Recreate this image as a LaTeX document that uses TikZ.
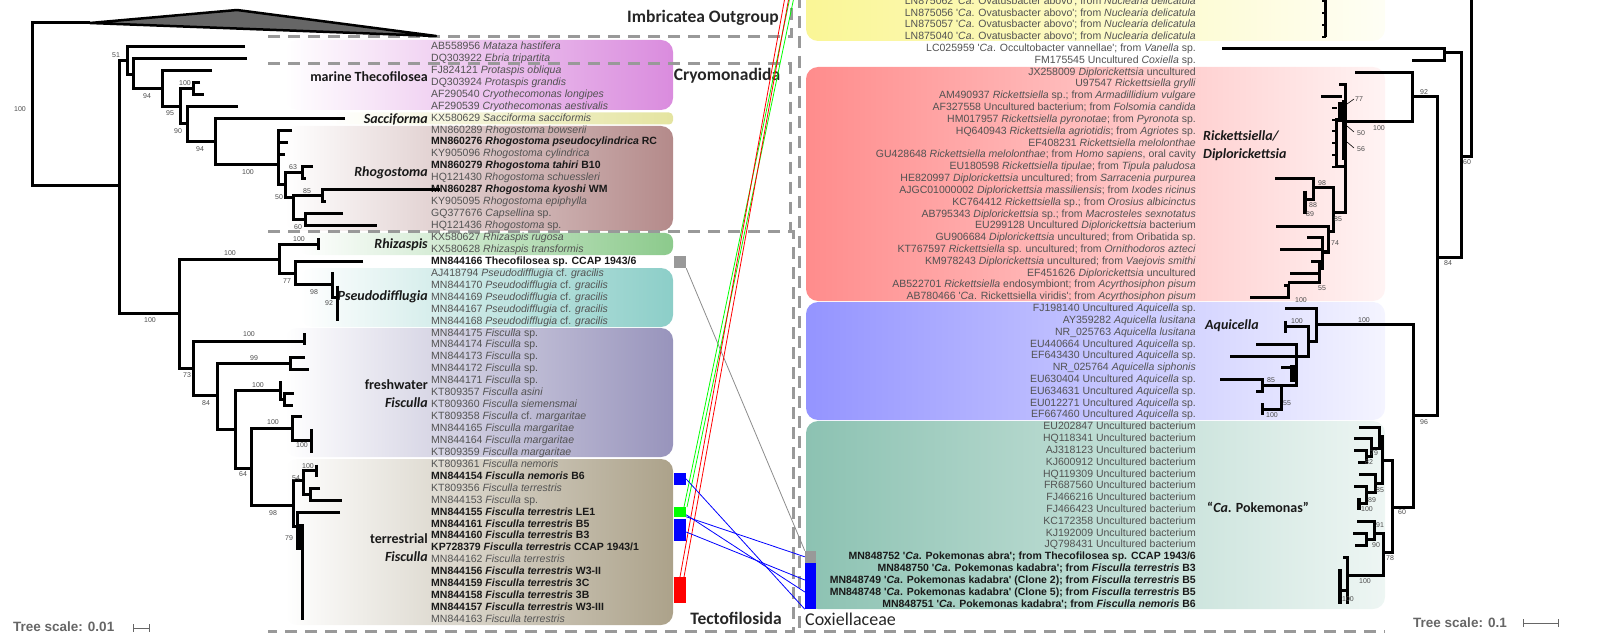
\documentclass[tikz,border=0pt]{standalone}
\usepackage{fontspec}
\setmainfont{Liberation Sans}
\newfontfamily\carlito{Carlito}
\definecolor{cryoC}{RGB}{218,140,222}
\definecolor{saccC}{RGB}{228,228,160}
\definecolor{rhogC}{RGB}{180,138,138}
\definecolor{rhizC}{RGB}{140,202,140}
\definecolor{pseuC}{RGB}{140,206,200}
\definecolor{fresC}{RGB}{152,148,188}
\definecolor{terrC}{RGB}{172,162,138}
\definecolor{ovaC}{RGB}{250,246,150}
\definecolor{rickC}{RGB}{255,140,140}
\definecolor{aquiC}{RGB}{148,148,255}
\definecolor{pokeC}{RGB}{140,194,178}
\newcommand{\strain}[1]{{\color{black!90}\bfseries #1}}
\newcommand{\apos}{\textquotesingle}
\begin{document}
\begin{tikzpicture}[x=1pt, y=-1pt,
  tree/.style={line width=3pt},
  boot/.style={inner sep=0, font=\fontsize{7}{8}\selectfont, text=black!70},
  llab/.style={anchor=west, inner sep=0, text height=7.5pt, text depth=2pt, font=\fontsize{10.5}{12}\selectfont, text=black!68},
  rlab/.style={anchor=east, inner sep=0, text height=7.5pt, text depth=2pt, font=\fontsize{10.5}{12}\selectfont, text=black!68},
  clade/.style={inner sep=0, font=\carlito\bfseries\fontsize{14}{18}\selectfont, text=black!90},
  group/.style={inner sep=0, font=\carlito\bfseries\fontsize{17.5}{19}\selectfont, text=black!85},
  sep/.style={black!40, line width=3pt, dash pattern=on 12pt off 8pt},
  marker/.style={inner sep=0, minimum width=12pt},
  link/.style={line width=0.8pt},
  scalelab/.style={anchor=west, inner sep=0, font=\bfseries\fontsize{13.5}{15}\selectfont, text=black!60}]
\useasboundingbox (0,0) rectangle (1602,636);

% coloured clade boxes, left
\shade[left color=white, right color=cryoC, rounded corners=12pt] (285,40) rectangle (673,110);
\shade[left color=white, right color=saccC, rounded corners=4pt] (330,112.5) rectangle (673,124.5);
\shade[left color=white, right color=rhogC, rounded corners=12pt] (285,126) rectangle (673,231);
\shade[left color=white, right color=rhizC, rounded corners=8pt] (300,233) rectangle (673,255);
\shade[left color=white, right color=pseuC, rounded corners=12pt] (300,268) rectangle (673,327);
\shade[left color=white, right color=fresC, rounded corners=12pt] (285,328) rectangle (673,457);
\shade[left color=white, right color=terrC, rounded corners=12pt] (285,459) rectangle (673,625);
% coloured clade boxes, right
\shade[left color=ovaC, right color=ovaC!10!white, rounded corners=12pt] (806,-15) rectangle (1385,41);
\shade[left color=rickC, right color=rickC!10!white, rounded corners=12pt] (806,67) rectangle (1385,301);
\shade[left color=aquiC, right color=aquiC!10!white, rounded corners=12pt] (806,302) rectangle (1385,420);
\shade[left color=pokeC, right color=pokeC!15!white, rounded corners=12pt] (806,421) rectangle (1385,609);

% dashed group frames
\draw[sep] (268,37) -- (791,37) -- (791,-4);
\draw[sep] (268,64) -- (790,64) -- (790,231);
\draw[sep] (268,232) -- (793,232) -- (793,631) -- (268,631);
\draw[sep] (799,-4) -- (799,631) -- (1385,631);

\node[group] (imb) at (703,18) {Imbricatea Outgroup};
\node[group] (cryo) at (727,76) {Cryomonadida};
\node[group] (tecto) at (736,618) {Tectofilosida};
\node[group, anchor=west, font=\carlito\fontsize{18}{20}\selectfont] (cox) at (805,619) {Coxiellaceae};

% left leaf labels
\foreach \t [count=\i] in {
  {AB558956 \textit{Mataza hastifera}},
  {DQ303922 \textit{Ebria tripartita}},
  {FJ824121 \textit{Protaspis obliqua}},
  {DQ303924 \textit{Protaspis grandis}},
  {AF290540 \textit{Cryothecomonas longipes}},
  {AF290539 \textit{Cryothecomonas aestivalis}},
  {KX580629 \textit{Sacciforma sacciformis}},
  {MN860289 \textit{Rhogostoma bowserii}},
  {\strain{MN860276 \textit{Rhogostoma pseudocylindrica} RC}},
  {KY905096 \textit{Rhogostoma cylindrica}},
  {\strain{MN860279 \textit{Rhogostoma tahiri} B10}},
  {HQ121430 \textit{Rhogostoma schuessleri}},
  {\strain{MN860287 \textit{Rhogostoma kyoshi} WM}},
  {KY905095 \textit{Rhogostoma epiphylla}},
  {GQ377676 \textit{Capsellina} sp.},
  {HQ121436 \textit{Rhogostoma} sp.},
  {KX580627 \textit{Rhizaspis rugosa}},
  {KX580628 \textit{Rhizaspis transformis}},
  {\strain{MN844166 Thecofilosea sp. CCAP 1943/6}},
  {AJ418794 \textit{Pseudodifflugia} cf. \textit{gracilis}},
  {MN844170 \textit{Pseudodifflugia} cf. \textit{gracilis}},
  {MN844169 \textit{Pseudodifflugia} cf. \textit{gracilis}},
  {MN844167 \textit{Pseudodifflugia} cf. \textit{gracilis}},
  {MN844168 \textit{Pseudodifflugia} cf. \textit{gracilis}},
  {MN844175 \textit{Fisculla} sp.},
  {MN844174 \textit{Fisculla} sp.},
  {MN844173 \textit{Fisculla} sp.},
  {MN844172 \textit{Fisculla} sp.},
  {MN844171 \textit{Fisculla} sp.},
  {KT809357 \textit{Fisculla asini}},
  {KT809360 \textit{Fisculla siemensmai}},
  {KT809358 \textit{Fisculla} cf. \textit{margaritae}},
  {MN844165 \textit{Fisculla margaritae}},
  {MN844164 \textit{Fisculla margaritae}},
  {KT809359 \textit{Fisculla margaritae}},
  {KT809361 \textit{Fisculla nemoris}},
  {\strain{MN844154 \textit{Fisculla nemoris} B6}},
  {KT809356 \textit{Fisculla terrestris}},
  {MN844153 \textit{Fisculla} sp.},
  {\strain{MN844155 \textit{Fisculla terrestris} LE1}},
  {\strain{MN844161 \textit{Fisculla terrestris} B5}},
  {\strain{MN844160 \textit{Fisculla terrestris} B3}},
  {\strain{KP728379 \textit{Fisculla terrestris} CCAP 1943/1}},
  {MN844162 \textit{Fisculla terrestris}},
  {\strain{MN844156 \textit{Fisculla terrestris} W3-II}},
  {\strain{MN844159 \textit{Fisculla terrestris} 3C}},
  {\strain{MN844158 \textit{Fisculla terrestris} 3B}},
  {\strain{MN844157 \textit{Fisculla terrestris} W3-III}},
  {MN844163 \textit{Fisculla terrestris}}}
  \node[llab] (L\i) at (431,{46.7+(\i-1)*11.94}) {\t};

% right leaf labels
\foreach \t [count=\i] in {
  {LN875062 \apos\textit{Ca}. Ovatusbacter abovo\apos; from \textit{Nuclearia delicatula}},
  {LN875056 \apos\textit{Ca}. Ovatusbacter abovo\apos; from \textit{Nuclearia delicatula}},
  {LN875057 \apos\textit{Ca}. Ovatusbacter abovo\apos; from \textit{Nuclearia delicatula}},
  {LN875040 \apos\textit{Ca}. Ovatusbacter abovo\apos; from \textit{Nuclearia delicatula}},
  {LC025959 \apos\textit{Ca}. Occultobacter vannellae\apos; from \textit{Vanella} sp.},
  {FM175545 Uncultured \textit{Coxiella} sp.},
  {JX258009 \textit{Diplorickettsia} uncultured},
  {U97547 \textit{Rickettsiella grylli}},
  {AM490937 \textit{Rickettsiella} sp.; from \textit{Armadillidium vulgare}},
  {AF327558 Uncultured bacterium; from \textit{Folsomia candida}},
  {HM017957 \textit{Rickettsiella pyronotae}; from \textit{Pyronota} sp.},
  {HQ640943 \textit{Rickettsiella agriotidis}; from \textit{Agriotes} sp.},
  {EF408231 \textit{Rickettsiella melolonthae}},
  {GU428648 \textit{Rickettsiella melolonthae}; from \textit{Homo sapiens}, oral cavity},
  {EU180598 \textit{Rickettsiella tipulae}; from \textit{Tipula paludosa}},
  {HE820997 \textit{Diplorickettsia} uncultured; from \textit{Sarracenia purpurea}},
  {AJGC01000002 \textit{Diplorickettsia massiliensis}; from \textit{Ixodes ricinus}},
  {KC764412 \textit{Rickettsiella} sp.; from \textit{Orosius albicinctus}},
  {AB795343 \textit{Diplorickettsia} sp.; from \textit{Macrosteles sexnotatus}},
  {EU299128 Uncultured \textit{Diplorickettsia} bacterium},
  {GU906684 \textit{Diplorickettsia} uncultured; from Oribatida sp.},
  {KT767597 \textit{Rickettsiella} sp. uncultured; from \textit{Ornithodoros azteci}},
  {KM978243 \textit{Diplorickettsia} uncultured; from \textit{Vaejovis smithi}},
  {EF451626 \textit{Diplorickettsia} uncultured},
  {AB522701 \textit{Rickettsiella} endosymbiont; from \textit{Acyrthosiphon pisum}},
  {AB780466 \apos\textit{Ca}. Rickettsiella viridis\apos; from \textit{Acyrthosiphon pisum}},
  {FJ198140 Uncultured \textit{Aquicella} sp.},
  {AY359282 \textit{Aquicella lusitana}},
  {NR\_025763 \textit{Aquicella lusitana}},
  {EU440664 Uncultured \textit{Aquicella} sp.},
  {EF643430 Uncultured \textit{Aquicella} sp.},
  {NR\_025764 \textit{Aquicella siphonis}},
  {EU630404 Uncultured \textit{Aquicella} sp.},
  {EU634631 Uncultured \textit{Aquicella} sp.},
  {EU012271 Uncultured \textit{Aquicella} sp.},
  {EF667460 Uncultured \textit{Aquicella} sp.},
  {EU202847 Uncultured bacterium},
  {HQ118341 Uncultured bacterium},
  {AJ318123 Uncultured bacterium},
  {KJ600912 Uncultured bacterium},
  {HQ119309 Uncultured bacterium},
  {FR687560 Uncultured bacterium},
  {FJ466216 Uncultured bacterium},
  {FJ466423 Uncultured bacterium},
  {KC172358 Uncultured bacterium},
  {KJ192009 Uncultured bacterium},
  {JQ798431 Uncultured bacterium},
  {\strain{MN848752 \apos\textit{Ca}. Pokemonas abra\apos; from Thecofilosea sp. CCAP 1943/6}},
  {\strain{MN848750 \apos\textit{Ca}. Pokemonas kadabra\apos; from \textit{Fisculla terrestris} B3}},
  {\strain{MN848749 \apos\textit{Ca}. Pokemonas kadabra\apos\ (Clone 2); from \textit{Fisculla terrestris} B5}},
  {\strain{MN848748 \apos\textit{Ca}. Pokemonas kadabra\apos\ (Clone 5); from \textit{Fisculla terrestris} B5}},
  {\strain{MN848751 \apos\textit{Ca}. Pokemonas kadabra\apos; from \textit{Fisculla nemoris} B6}}}
  \node[rlab] (R\i) at (1196,{1.5+(\i-1)*11.82}) {\t};

% clade names
\node[clade, anchor=east] (marine) at (428,77) {marine Thecofilosea};
\node[clade, anchor=east] (sacc) at (428,119) {\textit{Sacciforma}};
\node[clade, anchor=east] (rhog) at (428,173) {\textit{Rhogostoma}};
\node[clade, anchor=east] (rhiz) at (428,245) {\textit{Rhizaspis}};
\node[clade, anchor=east] (pseu) at (428,297) {\textit{Pseudodifflugia}};
\node[clade, anchor=east, align=right] (fres) at (428,394) {freshwater\\\textit{Fisculla}};
\node[clade, anchor=east, align=right] (terr) at (428,548) {terrestrial\\\textit{Fisculla}};
\node[clade, anchor=west, align=left] (rick) at (1203,146) {\textit{Rickettsiella/}\\\textit{Diplorickettsia}};
\node[clade, anchor=west] (aqui) at (1205,326) {\textit{Aquicella}};
\node[clade, anchor=west] (poke) at (1207,507) {“\textit{Ca}. Pokemonas”};

% left tree
\filldraw[fill=black!60, line width=2.5pt, line join=round] (90,23) -- (237,10) -- (436,36) -- cycle;
\draw[tree] (90,23) -- (32,23) -- (32,186) -- (119,186);
\draw[tree] (127,61) -- (119,61) -- (119,313) -- (179,313);
\draw[tree] (245,46.7) -- (127,46.7) -- (127,75) -- (133,75);
\draw[tree] (247,58.6) -- (133,58.6) -- (133,89) -- (162,89);
\draw[tree] (212,70.6) -- (162,70.6) -- (162,107) -- (180,107);
\draw[tree] (193,88.5) -- (180,88.5) -- (180,124) -- (187,124);
\draw[tree] (200,82.5) -- (193,82.5) -- (193,94.5) -- (204,94.5);
\draw[tree] (238,106.4) -- (187,106.4) -- (187,142) -- (215,142);
\draw[tree] (345,118.3) -- (215,118.3) -- (215,165) -- (278,165);
% Rhogostoma
\draw[tree] (292,130.3) -- (278,130.3) -- (278,185) -- (285,185);
\draw[tree] (288,142.2) -- (278,142.2);
\draw[tree] (285,154.2) -- (278,154.2);
\draw[tree] (302,173) -- (285,173) -- (285,198) -- (293,198);
\draw[tree] (313,166.1) -- (302,166.1) -- (302,178.1) -- (306,178.1);
\draw[tree] (322,196) -- (293,196) -- (293,220) -- (305,220);
\draw[tree] (440,190) -- (322,190) -- (322,201.9) -- (326,201.9);
\draw[tree] (343,213.9) -- (305,213.9) -- (305,225.8) -- (377,225.8);
% Tectofilosida
\draw[tree] (279,259) -- (179,259) -- (179,368) -- (193,368);
\draw[tree] (318,245) -- (279,245) -- (279,273) -- (295,273);
\draw[tree] (318,237.8) -- (318,249.7);
\draw[tree] (363,261.6) -- (295,261.6) -- (295,284) -- (332,284);
\draw[tree] (334,273.6) -- (332,273.6) -- (332,297) -- (337,297);
\draw[tree] (337,285.5) -- (337,321.4);
\draw[tree] (304,341) -- (193,341) -- (193,395) -- (217,395);
\draw[tree] (304,333.3) -- (304,345.2);
\draw[tree] (305,357.2) -- (290,357.2) -- (290,369.1) -- (309,369.1);
\draw[tree] (290,363) -- (217,363) -- (217,429) -- (235,429);
\draw[tree] (280,390) -- (235,390) -- (235,468) -- (251,468);
\draw[tree] (280,381.1) -- (280,399) -- (284,399);
\draw[tree] (294,393) -- (284,393) -- (284,405) -- (293,405);
\draw[tree] (292,428) -- (251,428) -- (251,505) -- (293,505);
\draw[tree] (302,416.9) -- (292,416.9) -- (292,440) -- (311,440);
\draw[tree] (311,428.8) -- (311,452.7);
% terrestrial Fisculla
\draw[tree] (303,480) -- (293,480) -- (293,526) -- (297,526);
\draw[tree] (316,470.6) -- (303,470.6) -- (303,494.5) -- (310,494.5);
\draw[tree] (316,464.7) -- (316,476.6);
\draw[tree] (320,488.6) -- (310,488.6) -- (310,500.5) -- (342,500.5);
\draw[tree] (340,512.4) -- (297,512.4) -- (297,548) -- (302,548) -- (302,619.9);
\draw[line width=5pt] (301,524) -- (301,548);

\foreach \x/\y/\v [count=\i] in {20/109/100, 116/55/51, 147/96/94, 185/83/100, 170/113/95,
  178/131/90, 200/149/94, 248/172/100, 293/167/63, 279/197/50, 307/191/85, 298/227/60,
  299/239/100, 230/253/100, 287/281/77, 314/292/98, 329/303/92, 150/320/100, 187/375/73,
  249/334/100, 206/403/84, 254/358/99, 258/385/100, 243/474/64, 273/422/100, 302/445/100,
  273/513/98, 296/478/54, 308/466/100, 289/538/79}
  \node[boot] (bl\i) at (\x,\y) {\v};

% right tree
\draw[tree] (1325,-4) -- (1325,37);
\foreach \y in {1.5,13.3,25.1,37} \draw[line width=2pt] (1322,\y) -- (1326,\y);
\draw[tree] (1471,-4) -- (1471,157) -- (1461,157);
\draw[tree] (1444,53) -- (1461,53) -- (1461,257) -- (1437,257);
\draw[tree] (1222,48.8) -- (1444,48.8) -- (1444,60.6) -- (1412,60.6);
\draw[tree] (1412,97) -- (1437,97) -- (1437,415) -- (1413,415);
\draw[tree] (1355,72.4) -- (1412,72.4) -- (1412,122) -- (1345,122);
% Rickettsiella / Diplorickettsia
\draw[tree] (1339,84.2) -- (1345,84.2) -- (1345,213) -- (1333,213);
\draw[tree] (1321,96.1) -- (1342,96.1);
\draw[line width=6pt] (1341,102) -- (1341,122);
\draw[tree] (1336,118) -- (1336,167) -- (1345,167);
\foreach \y in {107.9,119.7,131.5,143.3,155.2,167.0} \draw[line width=2pt] (1332,\y) -- (1337,\y);
\draw[line width=5pt] (1344,100) -- (1344,160);
\draw[line width=0.6pt] (1347,104) -- (1354,99) (1347,126) -- (1354,132) (1347,142) -- (1354,148);
\draw[tree] (1313,188) -- (1333,188) -- (1333,232) -- (1328,232);
\draw[tree] (1275,178.8) -- (1313,178.8) -- (1313,200) -- (1305,200);
\draw[line width=4pt] (1305,190.6) -- (1305,214.3);
\draw[tree] (1276,226.1) -- (1328,226.1) -- (1328,252) -- (1322,252);
\draw[tree] (1307,237.9) -- (1322,237.9) -- (1322,268) -- (1319,268);
\draw[tree] (1280,249.7) -- (1322,249.7);
\draw[tree] (1311,261.5) -- (1319,261.5) -- (1319,282) -- (1288,282);
\draw[tree] (1290,273.4) -- (1319,273.4);
\draw[tree] (1284,285.2) -- (1288,285.2) -- (1288,297) -- (1250,297);
% Aquicella
\draw[tree] (1316,324) -- (1413,324) -- (1413,507) -- (1392,507);
\draw[tree] (1285,308.8) -- (1316,308.8) -- (1316,341) -- (1308,341);
\draw[tree] (1285,326.5) -- (1308,326.5) -- (1308,356) -- (1296,356);
\draw[tree] (1285,320.6) -- (1285,332.5);
\draw[tree] (1256,344.3) -- (1296,344.3) -- (1296,385) -- (1281,385);
\draw[tree] (1230,356.1) -- (1296,356.1);
\draw[line width=5pt] (1292,365) -- (1292,382);
\draw[tree] (1281,367.9) -- (1292,367.9);
\draw[tree] (1262,385) -- (1281,385) -- (1281,409) -- (1262,409);
\draw[tree] (1220,379.7) -- (1262,379.7) -- (1262,391.6) -- (1256,391.6);
\draw[tree] (1262,403.4) -- (1262,415.2);
% "Ca. Pokemonas"
\draw[tree] (1382,460) -- (1392,460) -- (1392,552) -- (1383,552);
\draw[tree] (1379,436) -- (1382,436) -- (1382,483) -- (1375,483);
\draw[tree] (1359,427) -- (1379,427) -- (1379,448) -- (1371,448);
\draw[tree] (1354,438.8) -- (1371,438.8) -- (1371,456.6) -- (1366,456.6);
\draw[tree] (1354,450.7) -- (1366,450.7) -- (1366,462.5) -- (1358,462.5);
\draw[tree] (1359,474.3) -- (1375,474.3) -- (1375,492) -- (1366,492);
\draw[tree] (1354,486.1) -- (1366,486.1) -- (1366,503.8) -- (1359,503.8);
\draw[line width=4pt] (1359,497.9) -- (1359,509.8);
\draw[tree] (1374,533) -- (1383,533) -- (1383,575) -- (1347,575);
\draw[tree] (1357,521.6) -- (1374,521.6) -- (1374,539) -- (1366,539);
\draw[tree] (1353,533.4) -- (1366,533.4) -- (1366,545.2) -- (1355,545.2);
\draw[tree] (1343,557) -- (1347,557) -- (1347,604.3);
\draw[tree] (1347,590) -- (1340,590);
\draw[line width=4pt] (1340,568.9) -- (1340,604.3);

\foreach \x/\y/\v [count=\i] in {1359/99/77, 1361/133/50, 1361/149/56, 1379/128/100, 1424/92/92,
  1467/162/60, 1448/263/84, 1322/183/98, 1313/205/88, 1310/214/89, 1338/219/85, 1335/243/74,
  1322/288/55, 1301/300/100, 1364/320/100, 1297/321/100, 1271/380/85, 1287/403/55, 1272/415/100,
  1424/422/96, 1402/512/60, 1374/453/79, 1369/462/82, 1380/490/85, 1372/500/89, 1367/509/100,
  1380/525/91, 1376/545/90, 1390/558/78, 1365/581/100, 1348/599/100}
  \node[boot] (br\i) at (\x,\y) {\v};

% tree scales
\node[scalelab] (tsL) at (13,627) {Tree scale: 0.01};
\draw[black!60, line width=1pt] (133,624) -- (133,632) (133,628) -- (149,628) (149,624) -- (149,632);
\node[scalelab] (tsR) at (1413,623) {Tree scale: 0.1};
\draw[black!60, line width=1pt] (1523,619) -- (1523,627) (1523,623) -- (1558,623) (1558,619) -- (1558,627);

% host / symbiont markers
\node[marker, fill=black!40, minimum height=12pt] (sqGray) at (680,262) {};
\node[marker, fill=blue, minimum height=12pt] (sqBlueA) at (680,479) {};
\node[marker, fill=green, minimum height=10pt] (sqGreen) at (680,512) {};
\node[marker, fill=blue, minimum height=22pt] (sqBlueB) at (680,530) {};
\node[marker, fill=red, minimum height=26pt] (sqRed) at (680,590) {};
\node[marker, fill=black!40, minimum width=11pt, minimum height=12pt] (symGray) at (810.5,557) {};
\node[marker, fill=blue, minimum width=11pt, minimum height=46pt] (symBlue) at (810.5,586) {};
\coordinate (gA) at (684,507);
\coordinate (gB) at (687,507);
\coordinate (rA) at (680,577);
\coordinate (rB) at (684,577);
\coordinate (gTopA) at (790,-3);
\coordinate (gTopB) at (794,-3);
\coordinate (rTopA) at (785,-3);
\coordinate (rTopB) at (789,-3);

\draw[link, black!45] (sqGray.south east) -- (symGray.north west);
\draw[link, green] (gA) -- (gTopA) (gB) -- (gTopB);
\draw[link, red] (rA) -- (rTopA) (rB) -- (rTopB);
\draw[link, blue] (sqBlueA.east) -- (symBlue.south west);
\draw[link, blue] ([yshift=2pt]sqBlueB.north east) -- ([yshift=6pt]symBlue.north west);
\draw[link, blue] ([yshift=4pt]sqBlueB.north east) -- ([yshift=-6pt]symBlue.west);
\draw[link, blue] ([yshift=-2pt]sqBlueB.east) -- ([yshift=6pt]symBlue.west);
\end{tikzpicture}
\end{document}
